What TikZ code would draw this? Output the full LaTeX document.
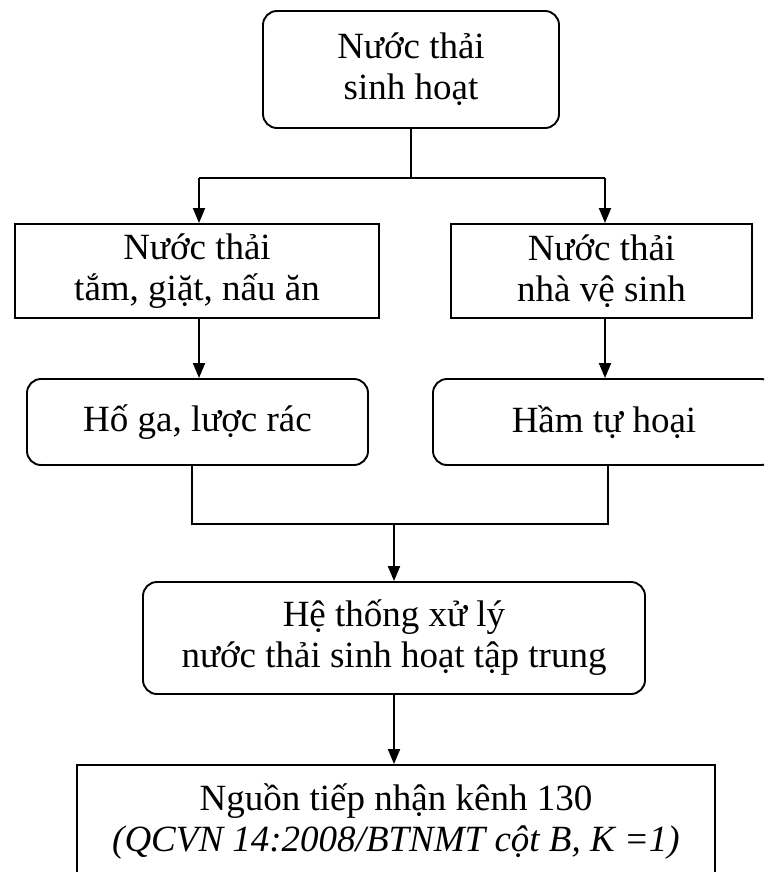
\documentclass[tikz,border=0pt]{standalone}
\usepackage{fontspec}
\setmainfont{Liberation Serif}
\usetikzlibrary{arrows.meta}
\begin{document}
\begin{tikzpicture}[x=1pt,y=-1pt,
  box/.style={draw, line width=1.9pt, align=center, inner sep=0pt,
    font=\fontsize{37}{41}\selectfont},
  rbox/.style={box, rounded corners=14pt},
  ln/.style={line width=1.9pt},
  arr/.style={line width=1.9pt, -{Triangle[length=15pt,width=12pt]}}]
\useasboundingbox (0,0) rectangle (764,872);
\clip (0,0) rectangle (764,872);
\node[rbox, minimum width=296pt, minimum height=117pt] (top) at (411,69.5) {Nước thải\\sinh hoạt};
\node[box, minimum width=364pt, minimum height=94pt] (lbox) at (197,271) {Nước thải\\tắm, giặt, nấu ăn};
\node[box, minimum width=301pt, minimum height=94pt] (rbox) at (601.5,271) {Nước thải\\nhà vệ sinh};
\node[rbox, minimum width=341pt, minimum height=86pt] (lrb) at (197.5,422) {Hố ga, lược rác};
\node[rbox, minimum width=342pt, minimum height=86pt] (rrb) at (604,422) {Hầm tự hoại};
\node[rbox, minimum width=502pt, minimum height=112pt] (mid) at (394,638) {Hệ thống xử lý\\nước thải sinh hoạt tập trung};
\node[box, minimum width=638pt, minimum height=114pt] (bot) at (396,822) {Nguồn tiếp nhận kênh 130\\\textit{(QCVN 14:2008/BTNMT cột B, K =1)}};
\coordinate (hl) at (199,178);
\coordinate (hr) at (605,178);
\coordinate (bl) at (192,524);
\coordinate (br) at (608,524);
\draw[ln] (top.south) -- (top.south |- hl);
\draw[ln] (hl) -- (hr);
\draw[arr] (hl) -- (hl |- lbox.north);
\draw[arr] (hr) -- (hr |- rbox.north);
\draw[arr] (hl |- lbox.south) -- (hl |- lrb.north);
\draw[arr] (hr |- rbox.south) -- (hr |- rrb.north);
\draw[ln] (bl |- lrb.south) -- (bl) -- (br) -- (br |- rrb.south);
\draw[arr] (mid.north |- bl) -- (mid.north);
\draw[arr] (mid.south) -- (mid.south |- bot.north);
\end{tikzpicture}
\end{document}
